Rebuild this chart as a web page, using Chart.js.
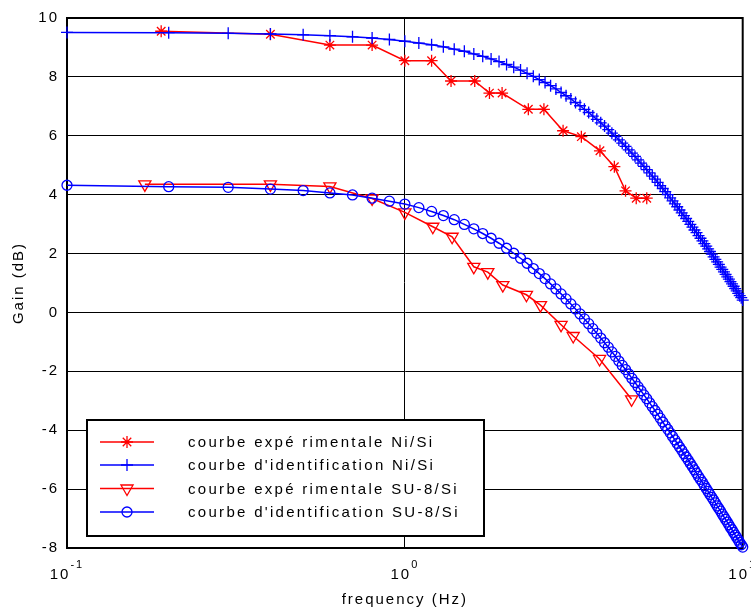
<!DOCTYPE html>
<html><head><meta charset="utf-8">
<script src="https://cdn.jsdelivr.net/npm/chart.js@4.4.1/dist/chart.umd.min.js"></script>
<style>html,body{margin:0;padding:0;background:#fff;overflow:hidden}#wrap{width:751px;height:612px;position:relative}</style>
</head><body><div id="wrap"><canvas id="c" width="751" height="612"></canvas></div>
<script>
// ---- data ----
const freq = [0.1,0.2,0.3,0.4,0.5,0.6,0.7,0.8,0.9,1.0,
 1.1,1.2,1.3,1.4,1.5,1.6,1.7,1.8,1.9,2.0,
 2.1,2.2,2.3,2.4,2.5,2.6,2.7,2.8,2.9,3.0,
 3.1,3.2,3.3,3.4,3.5,3.6,3.7,3.8,3.9,4.0,
 4.1,4.2,4.3,4.4,4.5,4.6,4.7,4.8,4.9,5.0,
 5.1,5.2,5.3,5.4,5.5,5.6,5.7,5.8,5.9,6.0,
 6.1,6.2,6.3,6.4,6.5,6.6,6.7,6.8,6.9,7.0,
 7.1,7.2,7.3,7.4,7.5,7.6,7.7,7.8,7.9,8.0,
 8.1,8.2,8.3,8.4,8.5,8.6,8.7,8.8,8.9,9.0,
 9.1,9.2,9.3,9.4,9.5,9.6,9.7,9.8,9.9,10.0];

const niExpFreq = [0.19,0.4,0.6,0.8,1.0,1.2,1.37,1.61,1.78,1.94,2.32,2.58,2.94,3.33,3.78,4.17,4.5,4.84,5.2];
const niExpGain = [9.55,9.45,9.08,9.08,8.55,8.55,7.86,7.86,7.45,7.45,6.9,6.9,6.17,5.97,5.49,4.95,4.13,3.88,3.88];

const niIdGain = [9.51,9.50,9.48,9.46,9.43,9.40,9.36,9.32,9.27,9.21,
 9.15,9.09,9.02,8.94,8.87,8.78,8.70,8.61,8.52,8.42,
 8.33,8.23,8.12,8.02,7.91,7.81,7.70,7.59,7.47,7.36,
 7.25,7.13,7.02,6.90,6.79,6.67,6.56,6.44,6.33,6.21,
 6.09,5.98,5.86,5.75,5.64,5.52,5.41,5.30,5.18,5.07,
 4.96,4.85,4.74,4.63,4.53,4.42,4.31,4.21,4.10,4.00,
 3.89,3.79,3.69,3.59,3.48,3.38,3.29,3.19,3.09,2.99,
 2.90,2.80,2.71,2.61,2.52,2.43,2.34,2.25,2.16,2.07,
 1.98,1.89,1.80,1.72,1.63,1.54,1.46,1.38,1.29,1.21,
 1.13,1.05,0.97,0.89,0.81,0.73,0.65,0.57,0.50,0.42];

const suExpFreq = [0.17,0.4,0.6,0.8,1.0,1.21,1.38,1.6,1.76,1.95,2.29,2.52,2.9,3.15,3.77,4.69];
const suExpGain = [4.35,4.35,4.28,3.87,3.40,2.91,2.57,1.55,1.37,0.93,0.60,0.25,-0.42,-0.80,-1.58,-2.95];

const suIdGain = [4.32,4.27,4.25,4.19,4.14,4.06,3.99,3.88,3.78,3.68,
 3.56,3.43,3.29,3.15,2.99,2.84,2.68,2.52,2.35,2.18,
 2.01,1.84,1.67,1.49,1.32,1.15,0.97,0.80,0.63,0.46,
 0.29,0.12,-0.05,-0.22,-0.38,-0.55,-0.71,-0.87,-1.03,-1.18,
 -1.34,-1.49,-1.65,-1.80,-1.94,-2.09,-2.24,-2.38,-2.52,-2.66,
 -2.80,-2.93,-3.07,-3.20,-3.33,-3.46,-3.59,-3.72,-3.85,-3.97,
 -4.09,-4.21,-4.33,-4.45,-4.57,-4.68,-4.80,-4.91,-5.02,-5.13,
 -5.24,-5.35,-5.46,-5.57,-5.67,-5.77,-5.88,-5.98,-6.08,-6.18,
 -6.28,-6.37,-6.47,-6.57,-6.66,-6.75,-6.85,-6.94,-7.03,-7.12,
 -7.21,-7.30,-7.38,-7.47,-7.56,-7.64,-7.73,-7.81,-7.89,-7.97];

const seriesNames = ["courbe expé rimentale Ni/Si","courbe d'identification Ni/Si","courbe expé rimentale SU-8/Si","courbe d'identification SU-8/Si"];
const xTickValues = [0.1, 1, 10];
const xTickExponents = ["-1", "0", "1"];
const yTickMin = -8, yTickMax = 10, yTickStep = 2;
const xTitle = "frequency (Hz)";
const yTitle = "Gain (dB)";

// ---- styles ----
const RED = '#ff0000', BLUE = '#0000ff';
const FONT = '"Liberation Sans", Arial, Helvetica, sans-serif';
const SPACING = '2px';
const LEGEND_SPACING = '2.3px';

const pts = (xs, ys) => xs.map((x, i) => ({x: x, y: ys[i]}));

const markerDefs = [
  {style:'star', color:RED, r:6, rot:0},
  {style:'cross', color:BLUE, r:6, rot:0},
  {style:'triangle', color:RED, r:7, rot:180},
  {style:'circle', color:BLUE, r:5, rot:0}
];

function drawMarker(ctx, m, x, y){
  ctx.save();
  ctx.strokeStyle = m.color; ctx.lineWidth = 1.3;
  ctx.beginPath();
  const r = m.r;
  if (m.style === 'star'){
    for (let a = 0; a < 4; a++){
      const t = a*Math.PI/4;
      ctx.moveTo(x - r*Math.cos(t), y - r*Math.sin(t));
      ctx.lineTo(x + r*Math.cos(t), y + r*Math.sin(t));
    }
  } else if (m.style === 'cross'){
    ctx.moveTo(x - r, y); ctx.lineTo(x + r, y);
    ctx.moveTo(x, y - r); ctx.lineTo(x, y + r);
  } else if (m.style === 'triangle'){
    ctx.moveTo(x, y + r);
    ctx.lineTo(x - r*Math.sin(Math.PI/3), y - r/2);
    ctx.lineTo(x + r*Math.sin(Math.PI/3), y - r/2);
    ctx.closePath();
  } else {
    ctx.arc(x, y, r, 0, Math.PI*2);
  }
  ctx.stroke();
  ctx.restore();
}

const framePlugin = {
  id: 'frameAndText',
  beforeDraw(chart){
    chart.ctx.letterSpacing = SPACING;
  },
  beforeDatasetsDraw(chart){
    const {ctx, chartArea:a} = chart;
    ctx.save();
    ctx.strokeStyle = '#000'; ctx.lineWidth = 2;
    ctx.strokeRect(a.left, a.top, a.right - a.left, a.bottom - a.top);
    ctx.restore();
  },
  afterDraw(chart){
    const ctx = chart.ctx, xs = chart.scales.x;
    ctx.save();
    ctx.letterSpacing = SPACING;
    ctx.fillStyle = '#000';
    ctx.textBaseline = 'alphabetic';
    ctx.textAlign = 'left';
    xTickValues.forEach((v, i) => {
      const px = xs.getPixelForValue(v);
      ctx.font = '15px ' + FONT;
      const wb = ctx.measureText('10').width;
      ctx.font = '11px ' + FONT;
      const we = ctx.measureText(xTickExponents[i]).width;
      const start = px - (wb + we)/2;
      ctx.font = '15px ' + FONT;
      ctx.fillText('10', start, 579);
      ctx.font = '11px ' + FONT;
      ctx.fillText(xTickExponents[i], start + wb, 568);
    });
    // legend
    const bx = 87, by = 420, bw = 397, bh = 116;
    ctx.fillStyle = '#fff';
    ctx.fillRect(bx, by, bw, bh);
    ctx.strokeStyle = '#000'; ctx.lineWidth = 2;
    ctx.strokeRect(bx, by, bw, bh);
    const rows = [442, 465, 488.5, 512];
    ctx.font = '15px ' + FONT;
    ctx.letterSpacing = LEGEND_SPACING;
    ctx.textBaseline = 'middle';
    seriesNames.forEach((name, i) => {
      const m = markerDefs[i];
      ctx.strokeStyle = m.color; ctx.lineWidth = 1.5;
      ctx.beginPath(); ctx.moveTo(100, rows[i]); ctx.lineTo(154, rows[i]); ctx.stroke();
      drawMarker(ctx, m, 127, rows[i]);
      ctx.fillStyle = '#000';
      ctx.fillText(name, 188, rows[i] + 1);
    });
    ctx.restore();
  }
};

function ds(label, data, m, order){
  return {
    label, data, order,
    borderColor: m.color, backgroundColor: 'rgba(0,0,0,0)',
    borderWidth: 1.5, tension: 0, clip: false,
    pointStyle: m.style, pointRadius: m.r, pointHoverRadius: m.r,
    pointRotation: m.rot, pointBorderColor: m.color,
    pointBackgroundColor: 'rgba(0,0,0,0)', pointBorderWidth: 1.3
  };
}

new Chart(document.getElementById('c'), {
  type: 'line',
  data: {
    datasets: [
      ds(seriesNames[0], pts(niExpFreq, niExpGain), markerDefs[0], 4),
      ds(seriesNames[1], pts(freq, niIdGain), markerDefs[1], 3),
      ds(seriesNames[2], pts(suExpFreq, suExpGain), markerDefs[2], 2),
      ds(seriesNames[3], pts(freq, suIdGain), markerDefs[3], 1)
    ]
  },
  options: {
    responsive: false, animation: false, devicePixelRatio: 1, events: [],
    layout: {padding: {top: 18, right: 8, left: 0, bottom: 0}},
    plugins: {legend: {display: false}, tooltip: {enabled: false}},
    scales: {
      x: {
        type: 'logarithmic', min: 0.1, max: 10,
        afterBuildTicks: s => { s.ticks = xTickValues.map(v => ({value: v})); },
        afterFit: s => { s.height = 64; },
        ticks: {display: false},
        grid: {color: '#000', lineWidth: 1, drawTicks: false},
        border: {display: true, color: '#000', width: 2},
        title: {display: true, text: xTitle, color: '#000', font: {size: 15, family: FONT}, padding: {top: 0, bottom: 3}}
      },
      y: {
        type: 'linear', min: yTickMin, max: yTickMax,
        afterFit: s => { s.width = 67; },
        ticks: {stepSize: yTickStep, color: '#000', padding: 8, font: {size: 15, family: FONT}},
        grid: {color: '#000', lineWidth: 1, drawTicks: false},
        border: {display: true, color: '#000', width: 2},
        title: {display: true, text: yTitle, color: '#000', font: {size: 15, family: FONT}, padding: {top: 10, bottom: 0}}
      }
    }
  },
  plugins: [framePlugin]
});
</script>
</body></html>
